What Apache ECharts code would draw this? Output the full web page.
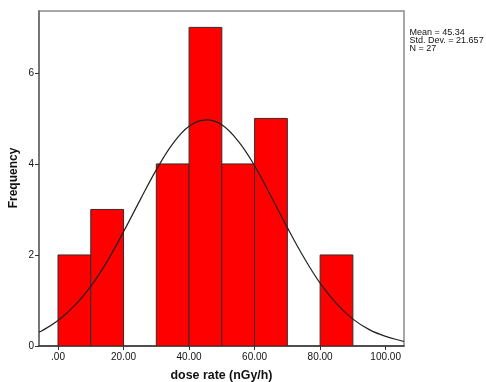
<!DOCTYPE html>
<html>
<head>
<meta charset="utf-8">
<script src="https://cdn.jsdelivr.net/npm/echarts@6/dist/echarts.min.js"></script>
<style>
html,body{margin:0;padding:0;background:#fff;}
#chart{width:486px;height:382px;}
</style>
</head>
<body>
<div id="chart"></div>
<script>
// Histogram bins (dose rate, nGy/h)
var binStarts = [0, 10, 20, 30, 40, 50, 60, 70, 80];
var binEnds   = [10, 20, 30, 40, 50, 60, 70, 80, 90];
var counts    = [2, 3, 0, 4, 7, 4, 5, 0, 2];

// Normal curve
var curveX = [-5.8, -5, 0, 5, 10, 15, 20, 25, 30, 35, 40, 45.34, 50, 55, 60, 65, 70, 75, 80, 85, 90, 95, 100, 105, 105.6];
var curveY = [0.31, 0.33, 0.56, 0.88, 1.31, 1.86, 2.51, 3.20, 3.87, 4.44, 4.83, 4.97, 4.86, 4.50, 3.96, 3.29, 2.60, 1.95, 1.38, 0.93, 0.59, 0.36, 0.21, 0.11, 0.10];

var xTicks = [0, 20, 40, 60, 80, 100];
var yTicks = [0, 2, 4, 6];
var statsLines = ['Mean = 45.34', 'Std. Dev. = 21.657', 'N = 27'];
var xTitle = 'dose rate (nGy/h)';
var yTitle = 'Frequency';

var FONT = '"Liberation Sans", Arial, sans-serif';

var barData = [];
for (var i = 0; i < counts.length; i++) {
  if (counts[i] > 0) barData.push([binStarts[i], binEnds[i], counts[i]]);
}
var lineData = curveX.map(function (x, i) { return [x, curveY[i]]; });

var chart = echarts.init(document.getElementById('chart'), null, {renderer: 'canvas'});

var graphics = [
  {type: 'text', x: 14, y: 178, rotation: Math.PI / 2,
   style: {text: yTitle, font: 'bold 12px ' + FONT, fill: '#111', textAlign: 'center', textVerticalAlign: 'middle'}},
  {type: 'text', x: 221.5, y: 376,
   style: {text: xTitle, font: 'bold 12.4px ' + FONT, fill: '#111', textAlign: 'center', textVerticalAlign: 'middle'}}
];
var statY = [32.3, 40.6, 48.8];
statsLines.forEach(function (t, i) {
  graphics.push({type: 'text', x: 409.5, y: statY[i],
    style: {text: t, font: '9px ' + FONT, fill: '#111', textAlign: 'left', textVerticalAlign: 'middle'}});
});

chart.setOption({
  animation: false,
  backgroundColor: '#fff',
  grid: {left: 39, top: 11, right: 82, bottom: 36, show: true, borderColor: '#8a8a8a', borderWidth: 1.5, backgroundColor: '#fff'},
  xAxis: {
    type: 'value', min: -5.8, max: 105.6,
    splitLine: {show: false},
    axisLine: {show: true, onZero: false, lineStyle: {color: '#333', width: 1.5}},
    axisTick: {show: true, length: 4, inside: false, customValues: xTicks, lineStyle: {color: '#333', width: 1}},
    axisLabel: {customValues: xTicks, color: '#111', fontFamily: FONT, fontSize: 10, margin: 6,
      formatter: function (v) { return v === 0 ? '.00' : v.toFixed(2); }}
  },
  yAxis: {
    type: 'value', min: 0, max: 7.36,
    splitLine: {show: false},
    axisLine: {show: true, onZero: false, lineStyle: {color: '#666', width: 1.5}},
    axisTick: {show: true, length: 4, inside: false, customValues: yTicks, lineStyle: {color: '#333', width: 1}},
    axisLabel: {customValues: yTicks, color: '#111', fontFamily: FONT, fontSize: 10, margin: 5,
      formatter: function (v) { return String(v); }}
  },
  series: [
    {
      type: 'custom',
      data: barData,
      encode: {x: [0, 1], y: 2},
      clip: true,
      renderItem: function (params, api) {
        var p0 = api.coord([api.value(0), api.value(2)]);
        var p1 = api.coord([api.value(1), 0]);
        return {
          type: 'rect',
          shape: {x: p0[0], y: p0[1], width: p1[0] - p0[0], height: p1[1] - p0[1]},
          style: {fill: '#ff0000', stroke: '#3a2a2a', lineWidth: 1}
        };
      },
      z: 2
    },
    {
      type: 'line',
      data: lineData,
      smooth: 0.4,
      showSymbol: false,
      symbol: 'none',
      clip: true,
      lineStyle: {color: '#222', width: 1.2},
      z: 3
    }
  ],
  graphic: graphics
});
</script>
</body>
</html>
